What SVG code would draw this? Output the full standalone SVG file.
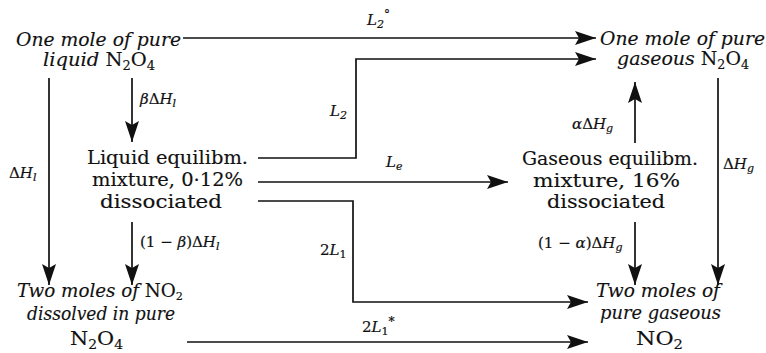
<svg xmlns="http://www.w3.org/2000/svg" width="766" height="353" viewBox="0 0 766 353">
<style>
.n{font-family:"DejaVu Serif","Liberation Serif",serif;font-size:18px;fill:#111;stroke:#111;stroke-width:0.15}
.i{font-style:italic}
.lb{font-family:"DejaVu Serif","Liberation Serif",serif;font-size:15px;fill:#111;stroke:#111;stroke-width:0.2}
.c{fill:none;stroke:#111;stroke-width:1.7}
</style>
<defs>
<marker id="ah" markerUnits="userSpaceOnUse" markerWidth="24" markerHeight="16" refX="21" refY="7" orient="auto">
<path d="M0,0 L21,7 L0,14 L4,7 Z" fill="#111"/>
</marker>
</defs>
<g id="n1">
<text class="n i" x="16" y="46" textLength="165" lengthAdjust="spacingAndGlyphs">One mole of pure</text>
<text class="n i" x="43" y="66" textLength="112" lengthAdjust="spacingAndGlyphs">liquid <tspan font-style="normal">N<tspan dy="4" font-size="12">2</tspan><tspan dy="-4">O</tspan><tspan dy="4" font-size="12">4</tspan></tspan></text>
</g>
<g id="n2">
<text class="n i" x="600" y="45" textLength="165" lengthAdjust="spacingAndGlyphs">One mole of pure</text>
<text class="n i" x="617" y="65" textLength="132" lengthAdjust="spacingAndGlyphs">gaseous <tspan font-style="normal">N<tspan dy="4" font-size="12">2</tspan><tspan dy="-4">O</tspan><tspan dy="4" font-size="12">4</tspan></tspan></text>
</g>
<g id="n3">
<text class="n" x="87" y="164" textLength="161" lengthAdjust="spacingAndGlyphs">Liquid equilibm.</text>
<text class="n" x="92" y="186" textLength="151" lengthAdjust="spacingAndGlyphs">mixture, 0·12%</text>
<text class="n" x="100" y="208" textLength="122" lengthAdjust="spacingAndGlyphs">dissociated</text>
</g>
<g id="n4">
<text class="n" x="522" y="165" textLength="176" lengthAdjust="spacingAndGlyphs">Gaseous equilibm.</text>
<text class="n" x="533" y="187" textLength="147" lengthAdjust="spacingAndGlyphs">mixture, 16%</text>
<text class="n" x="547" y="208" textLength="118" lengthAdjust="spacingAndGlyphs">dissociated</text>
</g>
<g id="n5">
<text class="n i" x="17" y="297" textLength="166" lengthAdjust="spacingAndGlyphs">Two moles of <tspan font-style="normal">NO<tspan dy="3" font-size="11">2</tspan></tspan></text>
<text class="n i" x="27" y="320" textLength="148" lengthAdjust="spacingAndGlyphs">dissolved in pure</text>
<text class="n" x="70" y="345" textLength="53" lengthAdjust="spacingAndGlyphs">N<tspan dy="4" font-size="12">2</tspan><tspan dy="-4">O</tspan><tspan dy="4" font-size="12">4</tspan></text>
</g>
<g id="n6">
<text class="n i" x="596" y="297" textLength="124" lengthAdjust="spacingAndGlyphs">Two moles of</text>
<text class="n i" x="600" y="319" textLength="121" lengthAdjust="spacingAndGlyphs">pure gaseous</text>
<text class="n" x="636" y="345" textLength="47" lengthAdjust="spacingAndGlyphs">NO<tspan dy="4" font-size="12">2</tspan></text>
</g>
<g id="connectors">
<path class="c" d="M183,38 H596" marker-end="url(#ah)"/>
<path class="c" d="M258,158 H356 V59 H596" marker-end="url(#ah)"/>
<path class="c" d="M258,182 H508" marker-end="url(#ah)"/>
<path class="c" d="M258,201 H353 V302 H588" marker-end="url(#ah)"/>
<path class="c" d="M187,342 H588" marker-end="url(#ah)"/>
<path class="c" d="M49,78 V285" marker-end="url(#ah)"/>
<path class="c" d="M132,78 V142" marker-end="url(#ah)"/>
<path class="c" d="M132,222 V285" marker-end="url(#ah)"/>
<path class="c" d="M635,143 V82" marker-end="url(#ah)"/>
<path class="c" d="M635,222 V285" marker-end="url(#ah)"/>
<path class="c" d="M718,78 V285" marker-end="url(#ah)"/>
<g id="labels">
<text class="lb i" x="367" y="25">L<tspan dy="3" font-size="11">2</tspan><tspan dy="-9" font-style="normal" font-size="12">°</tspan></text>
<text class="lb i" x="330" y="116">L<tspan dy="3" font-size="11">2</tspan></text>
<text class="lb i" x="386" y="167">L<tspan dy="3" font-size="11">e</tspan></text>
<text class="lb" x="320" y="255">2<tspan font-style="italic">L</tspan><tspan dy="3" font-size="11">1</tspan></text>
<text class="lb" x="362" y="332">2<tspan font-style="italic">L</tspan><tspan dy="3" font-size="11">1</tspan><tspan dy="-9" font-size="12">*</tspan></text>
<text class="lb" x="9" y="178">Δ<tspan font-style="italic">H</tspan><tspan dy="3" font-size="11" font-style="italic">l</tspan></text>
<text class="lb" x="140" y="104"><tspan font-style="italic">β</tspan>Δ<tspan font-style="italic">H</tspan><tspan dy="3" font-size="11" font-style="italic">l</tspan></text>
<text class="lb" x="140" y="247">(1 − <tspan font-style="italic">β</tspan>)Δ<tspan font-style="italic">H</tspan><tspan dy="3" font-size="11" font-style="italic">l</tspan></text>
<text class="lb" x="572" y="129"><tspan font-style="italic">α</tspan>Δ<tspan font-style="italic">H</tspan><tspan dy="3" font-size="11" font-style="italic">g</tspan></text>
<text class="lb" x="538" y="248">(1 − <tspan font-style="italic">α</tspan>)Δ<tspan font-style="italic">H</tspan><tspan dy="3" font-size="11" font-style="italic">g</tspan></text>
<text class="lb" x="723" y="169">Δ<tspan font-style="italic">H</tspan><tspan dy="3" font-size="11" font-style="italic">g</tspan></text>
</g>
</g>
</svg>
